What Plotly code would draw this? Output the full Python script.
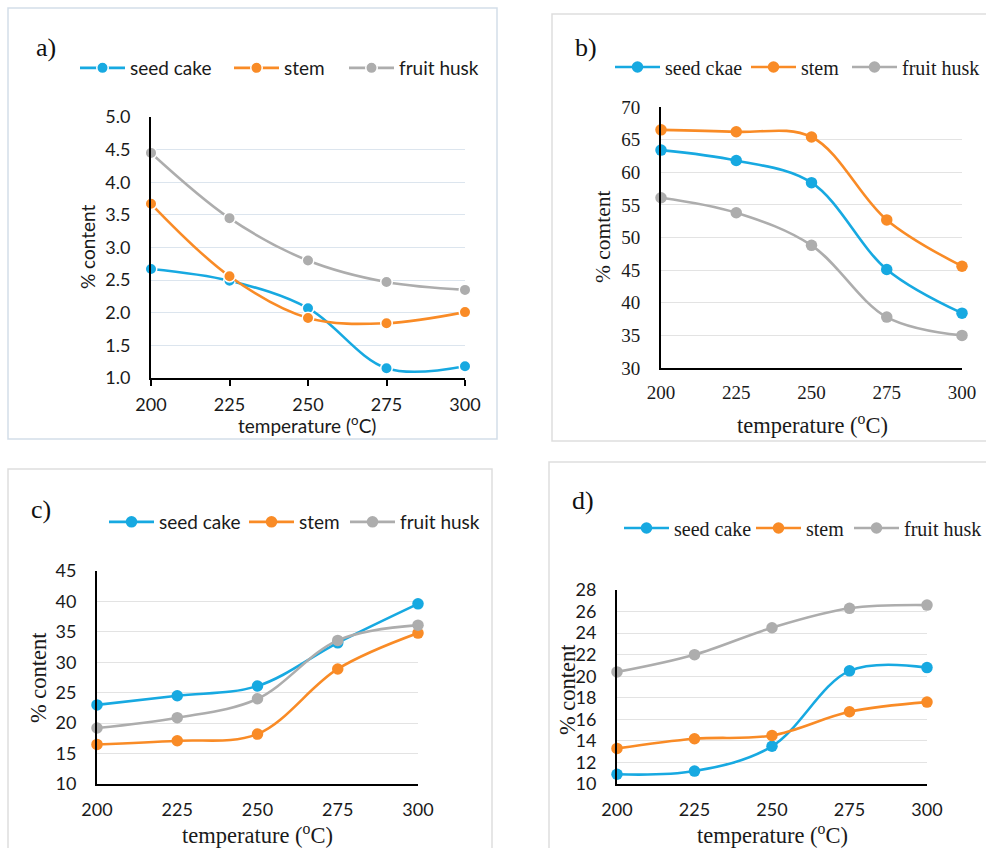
import plotly.graph_objects as go

temps = [200, 225, 250, 275, 300]
series_names = ["seed cake", "stem", "fruit husk"]
series_names_b = ["seed ckae", "stem", "fruit husk"]

# panel a
a_seed = [2.67, 2.49, 2.07, 1.15, 1.18]
a_stem = [3.67, 2.56, 1.92, 1.84, 2.01]
a_husk = [4.45, 3.45, 2.80, 2.47, 2.35]
# panel b
b_seed = [63.4, 61.8, 58.4, 45.1, 38.4]
b_stem = [66.5, 66.2, 65.4, 52.7, 45.6]
b_husk = [56.1, 53.8, 48.8, 37.8, 35.0]
# panel c
c_seed = [23.0, 24.5, 26.1, 33.2, 39.6]
c_stem = [16.5, 17.1, 18.2, 28.9, 34.8]
c_husk = [19.2, 20.9, 24.0, 33.6, 36.1]
# panel d
d_seed = [10.9, 11.2, 13.5, 20.5, 20.8]
d_stem = [13.3, 14.2, 14.5, 16.7, 17.6]
d_husk = [20.4, 22.0, 24.5, 26.3, 26.6]

colors = ["#17A9E1", "#F98B26", "#ADADAD"]
W, H = 986, 848
SANS = "Lato, Open Sans, sans-serif"
SERIF = "Liberation Serif, Times New Roman, serif"

def px(x):
    return x / W

def py(y):
    return 1 - y / H

panels = [
    dict(key="", data=[a_seed, a_stem, a_husk], names=series_names,
         xd=(151, 465), yd=(117, 378), yr=(1.0, 5.0), dt=0.5, fmt=".1f",
         tickfont=SANS, ticksize=18, legfont=SANS, legsize=19, white=True, grid="#DCE5EE",
         legx=(81, 235, 350), legy=68, label="a)", lab=(46, 48), ytitle="% content", ytfont=SANS, ytsize=19,
         yt=(88, 247), xt=(307, 424), xtfont=SANS, xtsize=19, ticksx=True, xstand=3),
    dict(key="2", data=[b_seed, b_stem, b_husk], names=series_names_b,
         xd=(661, 962), yd=(107, 368), yr=(30, 70), dt=5, fmt="d",
         tickfont=SERIF, ticksize=19, legfont=SERIF, legsize=20, white=False, grid="#E3E3E3",
         legx=(616, 752, 853), legy=67, label="b)", lab=(586, 48), ytitle="% comtent", ytfont=SERIF, ytsize=21.5,
         yt=(603, 237), xt=(812, 424), xtfont=SERIF, xtsize=22.5, ticksx=False, xstand=6),
    dict(key="3", data=[c_seed, c_stem, c_husk], names=series_names,
         xd=(97, 418), yd=(571, 784), yr=(10, 45), dt=5, fmt="d",
         tickfont=SANS, ticksize=18, legfont=SANS, legsize=19, white=False, grid="#E3E3E3",
         legx=(110, 250, 351), legy=522, label="c)", lab=(41, 510), ytitle="% content", ytfont=SERIF, ytsize=22.5,
         yt=(38, 678), xt=(257, 834), xtfont=SERIF, xtsize=22.5, ticksx=False, xstand=8),
    dict(key="4", data=[d_seed, d_stem, d_husk], names=series_names,
         xd=(617, 927), yd=(590, 784), yr=(10, 28), dt=2, fmt="d",
         tickfont=SANS, ticksize=18, legfont=SERIF, legsize=20, white=False, grid="#E3E3E3",
         legx=(625, 757, 855), legy=528, label="d)", lab=(583, 500), ytitle="% content", ytfont=SERIF, ytsize=22.5,
         yt=(567, 690), xt=(772, 834), xtfont=SERIF, xtsize=22.5, ticksx=False, xstand=8),
]

fig = go.Figure()
annotations = []
shapes = []
leg_i = 0

for p in panels:
    k = p["key"]
    for vals, name, col, lx in zip(p["data"], p["names"], colors, p["legx"]):
        leg_i += 1
        lk = "legend" if leg_i == 1 else "legend%d" % leg_i
        fig.add_trace(go.Scatter(
            x=temps, y=vals, name=name, mode="lines+markers",
            line=dict(color=col, width=2.6, shape="spline", smoothing=1.0),
            marker=dict(color=col, size=11.5,
                        line=dict(color="white" if p["white"] else col, width=1.5 if p["white"] else 0)),
            xaxis="x" + k, yaxis="y" + k, legend=lk, cliponaxis=False,
        ))
        fig.layout[lk] = dict(
            x=px(lx - 6), y=py(p["legy"]), xanchor="left", yanchor="middle",
            xref="container", yref="container", itemwidth=45,
            orientation="h", font=dict(family=p["legfont"], size=p["legsize"], color="#1a1a1a"),
            bgcolor="rgba(0,0,0,0)", itemclick=False, itemdoubleclick=False,
        )
    fig.layout["xaxis" + k] = dict(
        domain=[px(p["xd"][0]), px(p["xd"][1])], anchor="y" + k, automargin=False,
        range=[200, 300], tickvals=temps, showgrid=False, zeroline=False,
        showline=True, linecolor="black", linewidth=2,
        ticks="outside" if p["ticksx"] else "", ticklen=6, tickcolor="black", tickwidth=1.5,
        tickfont=dict(family=p["tickfont"], size=p["ticksize"], color="#1a1a1a"),
        ticklabelstandoff=p["xstand"],
    )
    fig.layout["yaxis" + k] = dict(
        domain=[py(p["yd"][1]), py(p["yd"][0])], anchor="x" + k, automargin=False,
        range=list(p["yr"]), dtick=p["dt"], tick0=p["yr"][0], tickformat=p["fmt"],
        showgrid=True, gridcolor=p["grid"], gridwidth=1.2, zeroline=False,
        showline=True, linecolor="black", linewidth=2,
        tickfont=dict(family=p["tickfont"], size=p["ticksize"], color="#1a1a1a"),
        ticklabelstandoff=15,
    )
    annotations.append(dict(text=p["label"], x=px(p["lab"][0]), y=py(p["lab"][1]),
                            xref="paper", yref="paper", showarrow=False,
                            xanchor="center", yanchor="middle",
                            font=dict(family=SERIF, size=26, color="#111")))
    annotations.append(dict(text=p["ytitle"], x=px(p["yt"][0]), y=py(p["yt"][1]),
                            xref="paper", yref="paper", showarrow=False, textangle=-90,
                            xanchor="center", yanchor="middle",
                            font=dict(family=p["ytfont"], size=p["ytsize"], color="#1a1a1a")))
    annotations.append(dict(text="temperature (<sup>o</sup>C)", x=px(p["xt"][0]), y=py(p["xt"][1]),
                            xref="paper", yref="paper", showarrow=False,
                            xanchor="center", yanchor="middle",
                            font=dict(family=p["xtfont"], size=p["xtsize"], color="#1a1a1a")))

frames = [((8, 8), (497, 439), "#D3DEE9"), ((552, 14), (990, 441), "#DEDEDE"),
          ((8, 469), (492, 860), "#DEDEDE"), ((549, 462), (990, 860), "#DEDEDE")]
for (x0, y0), (x1, y1), c in frames:
    shapes.append(dict(type="rect", xref="paper", yref="paper", x0=px(x0), x1=px(x1),
                       y0=py(y1), y1=py(y0), line=dict(color=c, width=1.5), layer="below"))

fig.update_layout(width=W, height=H, margin=dict(l=0, r=0, t=0, b=0, autoexpand=False),
                  paper_bgcolor="white", plot_bgcolor="white",
                  annotations=annotations, shapes=shapes, showlegend=True)

fig.write_html("out.html", config={"displayModeBar": False},
               post_script="document.body.style.margin='0px';")
